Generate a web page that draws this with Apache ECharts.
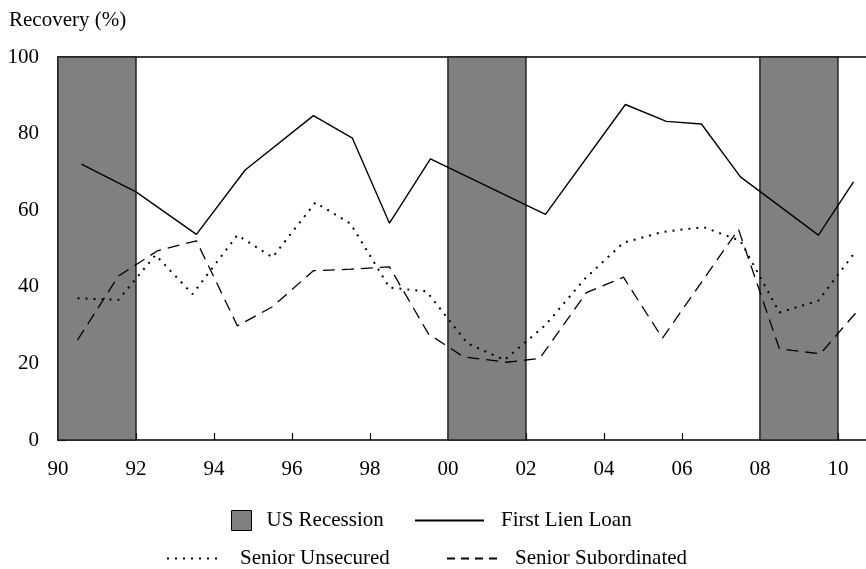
<!DOCTYPE html>
<html>
<head>
<meta charset="utf-8">
<script src="https://cdn.jsdelivr.net/npm/echarts@6/dist/echarts.min.js"></script>
<style>
  html, body { margin: 0; padding: 0; background: #fff; }
  #chart { width: 866px; height: 569px; }
</style>
</head>
<body>
<div id="chart"></div>
<script>
// recession periods (start / end year)
const recessionStart = [1990, 2000, 2008];
const recessionEnd = [1992, 2002, 2010];

// recovery rates
const lienYears = [1990.6, 1992.0, 1993.55, 1994.8, 1996.55, 1997.55, 1998.5, 1999.55, 2002.5, 2004.55, 2005.6, 2006.5, 2007.5, 2009.5, 2010.4];
const lienValues = [72.0, 64.8, 53.7, 70.5, 84.7, 78.8, 56.6, 73.4, 58.9, 87.6, 83.2, 82.5, 68.7, 53.5, 67.4];

const unsecYears = [1990.5, 1991.55, 1992.5, 1993.45, 1994.6, 1995.5, 1996.6, 1997.5, 1998.5, 1999.45, 2000.5, 2001.45, 2002.5, 2003.5, 2004.5, 2005.5, 2006.55, 2007.5, 2008.5, 2009.5, 2010.4];
const unsecValues = [37.0, 36.6, 48.3, 38.1, 53.5, 47.7, 62.0, 56.5, 39.8, 38.8, 25.2, 20.9, 30.0, 42.0, 51.5, 54.3, 55.6, 52.0, 33.3, 36.4, 48.5];

const subYears = [1990.5, 1991.55, 1992.55, 1993.55, 1994.6, 1995.5, 1996.55, 1997.5, 1998.5, 1999.5, 2000.4, 2001.5, 2002.35, 2003.55, 2004.5, 2005.5, 2007.45, 2008.5, 2009.55, 2010.45];
const subValues = [26.1, 42.8, 49.4, 52.0, 29.8, 34.8, 44.2, 44.6, 45.2, 27.7, 21.7, 20.3, 21.3, 38.5, 42.5, 26.6, 55.0, 23.8, 22.5, 33.1];

const tickYears = [1990, 1992, 1994, 1996, 1998, 2000, 2002, 2004, 2006, 2008, 2010];
const tickLabels = ['90', '92', '94', '96', '98', '00', '02', '04', '06', '08', '10'];

const font = 'Liberation Serif, Times New Roman, serif';

const chart = echarts.init(document.getElementById('chart'));

const pairs = (xs, ys) => xs.map((x, i) => [x, ys[i]]);

function lineLegend(name, left, top, width, pad, dash) {
  const lg = {
    data: [name],
    left: left,
    top: top,
    padding: 0,
    itemWidth: width,
    itemHeight: 20,
    selectedMode: false,
    itemStyle: { opacity: 0 },
    textStyle: { fontFamily: font, fontSize: 21, color: '#000', padding: [0, 0, 0, pad] },
  };
  if (dash) lg.lineStyle = { type: dash };
  return lg;
}

chart.setOption({
  animation: false,
  title: {
    text: 'Recovery (%)',
    left: 9,
    top: 10,
    padding: 0,
    textStyle: { fontFamily: font, fontSize: 21, fontWeight: 'normal', color: '#000' },
  },
  legend: [
    {
      data: [{ name: 'US Recession', icon: 'rect' }],
      left: 231,
      top: 510,
      padding: 0,
      itemWidth: 20,
      itemHeight: 20,
      selectedMode: false,
      itemStyle: { color: '#808080', borderColor: '#000', borderWidth: 1 },
      textStyle: { fontFamily: font, fontSize: 21, color: '#000', padding: [0, 0, 0, 10] },
    },
    lineLegend('First Lien Loan', 414, 510, 69, 12),
    lineLegend('Senior Unsecured', 166, 548, 55, 13),
    lineLegend('Senior Subordinated', 446, 548, 51, 12, [8, 6]),
  ],
  grid: { left: 58, right: 0, top: 57, bottom: 129 },
  xAxis: [
    {
      type: 'value',
      min: 1990,
      max: 2010.72,
      interval: 2,
      axisLine: { lineStyle: { color: '#000', width: 1.5 } },
      axisTick: { inside: true, length: 7, customValues: tickYears, lineStyle: { color: '#000', width: 1.2 } },
      splitLine: { show: false },
      axisLabel: {
        margin: 19,
        fontFamily: font,
        fontSize: 21,
        color: '#000',
        customValues: tickYears,
        formatter: (v) => {
          const i = tickYears.indexOf(Math.round(v * 100) / 100);
          return i >= 0 ? tickLabels[i] : '';
        },
      },
    },
    {
      type: 'value',
      position: 'top',
      min: 1990,
      max: 2010.72,
      axisLine: { show: true, lineStyle: { color: '#000', width: 1.5 } },
      axisTick: { show: false },
      axisLabel: { show: false },
      splitLine: { show: false },
    },
  ],
  yAxis: {
    type: 'value',
    min: 0,
    max: 100,
    interval: 20,
    axisLine: { show: true, lineStyle: { color: '#000', width: 1.5 } },
    axisTick: { show: true, inside: true, length: 8, lineStyle: { color: '#000', width: 1.2 } },
    splitLine: { show: false },
    axisLabel: { margin: 19, fontFamily: font, fontSize: 21, color: '#000' },
  },
  series: [
    {
      name: 'US Recession',
      type: 'line',
      data: [],
      z: 1,
      itemStyle: { color: '#808080' },
      markArea: {
        silent: true,
        itemStyle: { color: '#808080', borderColor: '#222', borderWidth: 1.5 },
        data: recessionStart.map((s, i) => [{ xAxis: s }, { xAxis: recessionEnd[i] }]),
      },
    },
    {
      name: 'First Lien Loan',
      type: 'line',
      z: 3,
      symbol: 'none',
      itemStyle: { color: '#000' },
      lineStyle: { color: '#000', width: 1.4, type: 'solid' },
      data: pairs(lienYears, lienValues),
    },
    {
      name: 'Senior Unsecured',
      type: 'line',
      z: 3,
      symbol: 'none',
      itemStyle: { color: '#000' },
      lineStyle: { color: '#000', width: 2, type: [2, 6] },
      data: pairs(unsecYears, unsecValues),
    },
    {
      name: 'Senior Subordinated',
      type: 'line',
      z: 3,
      symbol: 'none',
      itemStyle: { color: '#000' },
      lineStyle: { color: '#000', width: 1.3, type: [12, 7] },
      data: pairs(subYears, subValues),
    },
  ],
});
</script>
</body>
</html>
